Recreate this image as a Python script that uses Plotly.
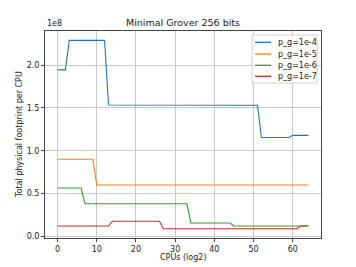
import plotly.graph_objects as go

cpus_log2 = list(range(65))
pg_1e4 = [1.945e8]*3 + [2.29e8]*10 + [1.535e8]*20 + [1.532e8]*19 + [1.155e8]*8 + [1.18e8]*5
pg_1e5 = [0.90e8]*10 + [0.60e8]*55
pg_1e6 = [0.565e8]*7 + [0.38e8]*27 + [0.155e8]*11 + [0.12e8]*20
pg_1e7 = [0.12e8]*14 + [0.175e8]*13 + [0.088e8]*35 + [0.12e8]*3

series = [("p_g=1e-4", pg_1e4, "#1f77b4"),
          ("p_g=1e-5", pg_1e5, "#ff7f0e"),
          ("p_g=1e-6", pg_1e6, "#2ca02c"),
          ("p_g=1e-7", pg_1e7, "#d62728")]

ytick_vals = [0, 0.5e8, 1.0e8, 1.5e8, 2.0e8]
ytick_text = ["0.0", "0.5", "1.0", "1.5", "2.0"]
xtick_vals = [0, 10, 20, 30, 40, 50, 60]

W, H = 356, 267
L, R, T, B = 45, 321, 31, 238

def px(x):
    return (x - L) / (R - L)

def py(y):
    return (B - y) / (B - T)

fig = go.Figure()
for name, ys, col in series:
    fig.add_trace(go.Scatter(x=cpus_log2, y=ys, mode="lines", name=name,
                             line=dict(color=col, width=1.1), showlegend=False))

axis_common = dict(showline=True, mirror=True, linecolor="#444444", linewidth=1,
                   ticks="outside", ticklen=3, tickcolor="#444444", automargin=False,
                   showgrid=True, gridcolor="#c8c8c8", gridwidth=1, zeroline=False,
                   tickfont=dict(size=8, color="#222"))

fig.update_layout(
    width=W, height=H,
    margin=dict(l=L, r=W - R, t=T, b=H - B),
    paper_bgcolor="white", plot_bgcolor="white",
    font=dict(family="DejaVu Sans", size=8, color="#222"),
    title=dict(text="Minimal Grover 256 bits", x=0.5, xanchor="center",
               xref="paper", y=1 - 23/267, yanchor="middle", font=dict(size=9.5)),
    xaxis=dict(range=[-3.2, 67.2], tickvals=xtick_vals, **axis_common),
    yaxis=dict(range=[-0.02e8, 2.40e8], tickvals=ytick_vals, ticktext=ytick_text,
               **axis_common),
    showlegend=False,
)
fig.add_annotation(text="1e8", xref="paper", yref="paper", x=0, y=1.0,
                   xanchor="left", yanchor="bottom", showarrow=False,
                   font=dict(size=8, color="#222"), yshift=1)
# axis titles
fig.add_annotation(text="CPUs (log2)", xref="paper", yref="paper", x=0.5, y=py(257),
                   xanchor="center", yanchor="middle", showarrow=False,
                   font=dict(size=8, color="#222"))
fig.add_annotation(text="Total physical footprint per CPU", xref="paper", yref="paper",
                   x=px(19.5), y=0.5, xanchor="center", yanchor="middle", textangle=-90,
                   showarrow=False, font=dict(size=8, color="#222"))

# legend box
fig.add_shape(type="rect", xref="paper", yref="paper",
              x0=px(252), x1=px(317), y0=py(83), y1=py(35),
              line=dict(color="#d0d0d0", width=1), fillcolor="rgba(255,255,255,0.85)",
              layer="above")
entry_y = [42.3, 54, 65.3, 76.3]
for (name, ys, col), ey in zip(series, entry_y):
    fig.add_shape(type="line", xref="paper", yref="paper",
                  x0=px(255), x1=px(271), y0=py(ey), y1=py(ey),
                  line=dict(color=col, width=1.3), layer="above")
    fig.add_annotation(text=name, xref="paper", yref="paper", x=px(276), y=py(ey),
                       xanchor="left", yanchor="middle", showarrow=False,
                       font=dict(size=8, color="#222"))

fig.write_html("out.html", config={"displayModeBar": False},
               post_script="document.body.style.margin='0';")
